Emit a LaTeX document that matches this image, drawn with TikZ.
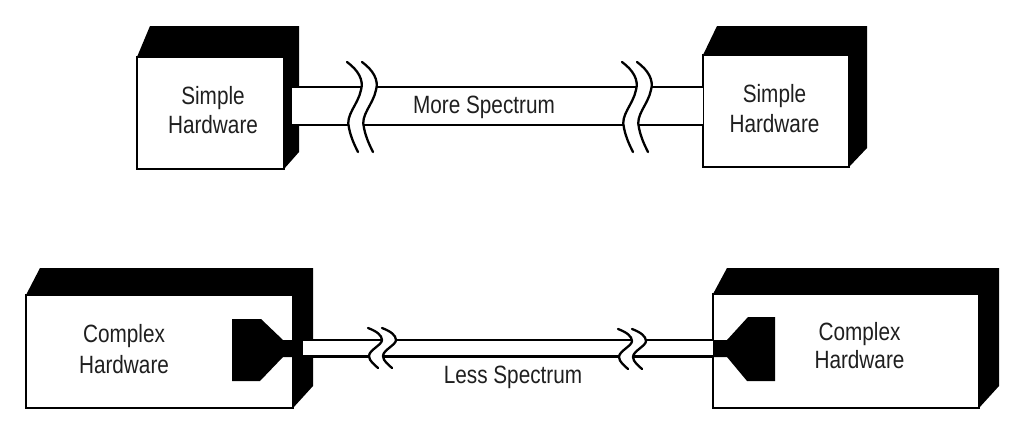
\documentclass[tikz,border=0pt]{standalone}
\usepackage{fontspec}
\newfontfamily\lblfont[FakeStretch=0.83]{Liberation Sans}
\begin{document}
\begin{tikzpicture}[x=1pt,y=-1pt,
  edge/.style={line width=2.2pt},
  brkline/.style={line width=2.3pt, line cap=round},
  lbl/.style={font=\lblfont\fontsize{25}{29}\selectfont, inner sep=0pt, anchor=base, text=black!88},
  face/.style={draw, fill=white, line width=2.2pt, rectangle, inner sep=0pt},
  shell/.style={fill=black},
  brktop/.pic={
    \fill[white] (0,0) .. controls (11,8) and (17,18) .. (14,28)
      .. controls (11,43) and (-2,53) .. (2,66)
      .. controls (4,76) and (8,84) .. (11,90)
      -- (26,90) .. controls (23,84) and (19,76) .. (17,66)
      .. controls (13,53) and (26,43) .. (29,28)
      .. controls (32,18) and (26,8) .. (15,0) -- cycle;
    \draw[brkline] (0,0) .. controls (11,8) and (17,18) .. (14,28)
      .. controls (11,43) and (-2,53) .. (2,66)
      .. controls (4,76) and (8,84) .. (11,90);
    \draw[brkline] (15,0) .. controls (26,8) and (32,18) .. (29,28)
      .. controls (26,43) and (13,53) .. (17,66)
      .. controls (19,76) and (23,84) .. (26,90);
  },
  brkbot/.pic={
    \fill[white] (0,0) .. controls (8,3) and (14,7) .. (14,12)
      .. controls (14,17) and (1,22) .. (1,28)
      .. controls (1,33) and (7,37) .. (10,40)
      -- (24,40) .. controls (21,37) and (15,33) .. (15,28)
      .. controls (15,22) and (28,17) .. (28,12)
      .. controls (28,7) and (22,3) .. (14,0) -- cycle;
    \draw[brkline] (0,0) .. controls (8,3) and (14,7) .. (14,12)
      .. controls (14,17) and (1,22) .. (1,28)
      .. controls (1,33) and (7,37) .. (10,40);
    \draw[brkline] (14,0) .. controls (22,3) and (28,7) .. (28,12)
      .. controls (28,17) and (15,22) .. (15,28)
      .. controls (15,33) and (21,37) .. (24,40);
  }]
\useasboundingbox (0,0) rectangle (1023,429);
\fill[white] (0,0) rectangle (1023,429);

% ---------- top row ----------
\fill[shell] (137,57) -- (150,26) -- (299,26) -- (299,152) -- (284,169) -- cycle;
\node[face, minimum width=147pt, minimum height=112pt] (tlface) at (210.5,113) {};
\fill[shell] (703,55) -- (717,26) -- (867,26) -- (867,148) -- (849,167) -- cycle;
\node[face, minimum width=146pt, minimum height=112pt] (trface) at (776,111) {};

\coordinate (tpa) at (292,87);
\coordinate (tpb) at (703,87);
\coordinate (tpc) at (292,125);
\coordinate (tpd) at (703,125);
\fill[white] (tpa) rectangle (tpd);
\draw[edge] (tpa) -- (tpb);
\draw[edge] (tpc) -- (tpd);
\pic at (347,62) {brktop};
\pic at (622,62) {brktop};

\node[lbl] (tl1) at (213,104) {Simple};
\node[lbl] (tl2) at (213,133) {Hardware};
\node[lbl] (tr1) at (774.5,102) {Simple};
\node[lbl] (tr2) at (774.5,132) {Hardware};
\node[lbl] (more) at (484,113) {More Spectrum};

% ---------- bottom row ----------
\fill[shell] (26,295) -- (40,268) -- (313,268) -- (313,386) -- (293,408) -- cycle;
\node[face, minimum width=267pt, minimum height=113pt] (blface) at (159.5,351.5) {};
\fill[shell] (713,294) -- (727,268) -- (999,268) -- (999,386) -- (979,408) -- cycle;
\node[face, minimum width=266pt, minimum height=114pt] (brface) at (846,351) {};

% connectors
\fill[shell] (232,319) -- (261,319) -- (283,340) -- (294,340) -- (294,357)
  -- (283,357) -- (260,381) -- (232,381) -- cycle;
\fill[shell] (712,340) -- (727,340) -- (748,317) -- (775,317) -- (775,381)
  -- (747,381) -- (727,357) -- (712,357) -- cycle;

\coordinate (bpa) at (303,340);
\coordinate (bpb) at (713,340);
\coordinate (bpc) at (303,356.5);
\coordinate (bpd) at (713,356.5);
\fill[white] (bpa) rectangle (bpd);
\draw[edge] (bpa) -- (bpb);
\draw[edge] (bpc) -- (bpd);
\pic at (368,328) {brkbot};
\pic at (618,329) {brkbot};

\node[lbl] (bl1) at (124,342) {Complex};
\node[lbl] (bl2) at (124,373) {Hardware};
\node[lbl] (br1) at (859.5,340) {Complex};
\node[lbl] (br2) at (859.5,368) {Hardware};
\node[lbl] (less) at (513,383) {Less Spectrum};
\end{tikzpicture}
\end{document}
